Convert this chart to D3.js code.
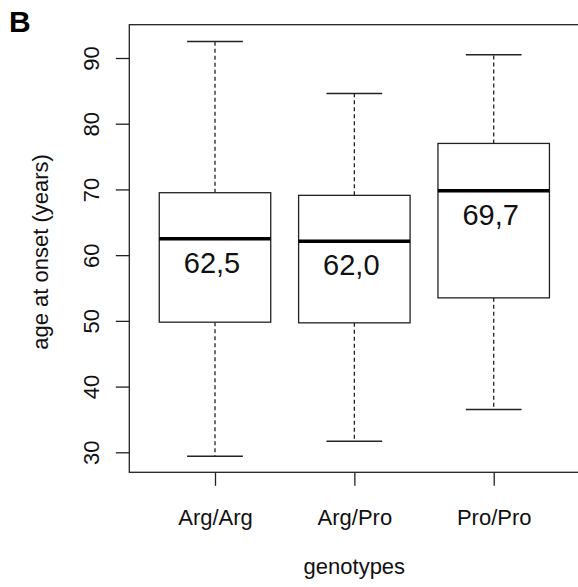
<!DOCTYPE html>
<html>
<head>
<meta charset="utf-8">
<script src="https://cdn.jsdelivr.net/npm/d3@7"></script>
<style>
  html, body { margin: 0; padding: 0; background: #fff; }
  svg { display: block; font-family: "Liberation Sans", Arial, Helvetica, sans-serif; }
</style>
</head>
<body>
<svg width="578" height="587"></svg>
<script>
// values
const genotypes = ["Arg/Arg", "Arg/Pro", "Pro/Pro"];
const whiskerLow = [29.4, 31.7, 36.5];
const q1 = [49.8, 49.7, 53.5];
const median = [62.5, 62.1, 69.8];
const q3 = [69.5, 69.1, 77.0];
const whiskerHigh = [92.5, 84.6, 90.5];
const medianLabels = ["62,5", "62,0", "69,7"];
const yTicks = [30, 40, 50, 60, 70, 80, 90];

const svg = d3.select("svg");
const ink = "#222";

// plot region (box edges), right side runs off the canvas
const plotLeft = 129.3, plotTop = 24.7, plotBottom = 472.3, plotRight = 581;

const y = d3.scaleLinear().domain([30, 90]).range([452.3, 58]);
const x = d3.scaleLinear().domain([1, 3]).range([215, 493.7]);
const unit = x(2) - x(1);
const boxW = 0.8 * unit;
const capW = 0.5 * boxW;

const data = genotypes.map((g, i) => ({
  i: i + 1, g,
  lo: whiskerLow[i], q1: q1[i], med: median[i], q3: q3[i], hi: whiskerHigh[i],
  label: medianLabels[i]
}));

const boxes = svg.append("g")
  .selectAll("g")
  .data(data)
  .enter()
  .append("g");

// dashed whiskers
boxes.append("line")
  .attr("x1", d => x(d.i)).attr("x2", d => x(d.i))
  .attr("y1", d => y(d.q3)).attr("y2", d => y(d.hi))
  .attr("stroke", ink).attr("stroke-width", 1.3)
  .attr("stroke-dasharray", "4,3");

boxes.append("line")
  .attr("x1", d => x(d.i)).attr("x2", d => x(d.i))
  .attr("y1", d => y(d.q1)).attr("y2", d => y(d.lo))
  .attr("stroke", ink).attr("stroke-width", 1.3)
  .attr("stroke-dasharray", "4,3");

// staples
boxes.append("line")
  .attr("x1", d => x(d.i) - capW / 2).attr("x2", d => x(d.i) + capW / 2)
  .attr("y1", d => y(d.hi)).attr("y2", d => y(d.hi))
  .attr("stroke", ink).attr("stroke-width", 1.5);

boxes.append("line")
  .attr("x1", d => x(d.i) - capW / 2).attr("x2", d => x(d.i) + capW / 2)
  .attr("y1", d => y(d.lo)).attr("y2", d => y(d.lo))
  .attr("stroke", ink).attr("stroke-width", 1.5);

// boxes
boxes.append("rect")
  .attr("x", d => x(d.i) - boxW / 2)
  .attr("width", boxW)
  .attr("y", d => y(d.q3))
  .attr("height", d => y(d.q1) - y(d.q3))
  .attr("fill", "#fff")
  .attr("stroke", ink).attr("stroke-width", 1.3);

// medians
boxes.append("line")
  .attr("x1", d => x(d.i) - boxW / 2).attr("x2", d => x(d.i) + boxW / 2)
  .attr("y1", d => y(d.med)).attr("y2", d => y(d.med))
  .attr("stroke", "#000").attr("stroke-width", 3.5);

boxes.append("text")
  .attr("x", d => x(d.i) - 3)
  .attr("y", d => y(d.med) + 34)
  .attr("text-anchor", "middle")
  .attr("font-size", 29)
  .attr("fill", "#111")
  .text(d => d.label);

// frame
svg.append("rect")
  .attr("x", plotLeft).attr("y", plotTop)
  .attr("width", plotRight - plotLeft).attr("height", plotBottom - plotTop)
  .attr("fill", "none")
  .attr("stroke", ink).attr("stroke-width", 1.3);

// y axis
const yAxis = svg.append("g")
  .attr("transform", `translate(${plotLeft},0)`)
  .call(d3.axisLeft(y).tickValues(yTicks).tickSize(13.5).tickSizeOuter(0));
yAxis.select(".domain").remove();
yAxis.selectAll("line").attr("stroke", ink).attr("stroke-width", 1.3);
yAxis.selectAll("text")
  .attr("x", 0).attr("y", 0).attr("dy", null)
  .attr("text-anchor", "middle")
  .attr("transform", `translate(${99 - plotLeft},0) rotate(-90)`)
  .attr("font-size", 22)
  .attr("fill", "#111");

// x axis
const xAxis = svg.append("g")
  .attr("transform", `translate(0,${plotBottom})`)
  .call(d3.axisBottom(x).tickValues([1, 2, 3]).tickFormat(d => genotypes[d - 1]).tickSize(13.5).tickSizeOuter(0));
xAxis.select(".domain").remove();
xAxis.selectAll("line").attr("stroke", ink).attr("stroke-width", 1.3);
xAxis.selectAll("text")
  .attr("y", 525 - plotBottom).attr("dy", null)
  .attr("font-size", 22)
  .attr("fill", "#111");

// axis titles
svg.append("text")
  .attr("x", x(2)).attr("y", 574)
  .attr("text-anchor", "middle")
  .attr("font-size", 22)
  .attr("fill", "#111")
  .text("genotypes");

svg.append("text")
  .attr("transform", "translate(48,252) rotate(-90)")
  .attr("text-anchor", "middle")
  .attr("font-size", 22)
  .attr("fill", "#111")
  .text("age at onset (years)");

// panel letter
svg.append("text")
  .attr("x", 9).attr("y", 32)
  .attr("font-size", 30)
  .attr("font-weight", "bold")
  .attr("fill", "#000")
  .text("B");
</script>
</body>
</html>
